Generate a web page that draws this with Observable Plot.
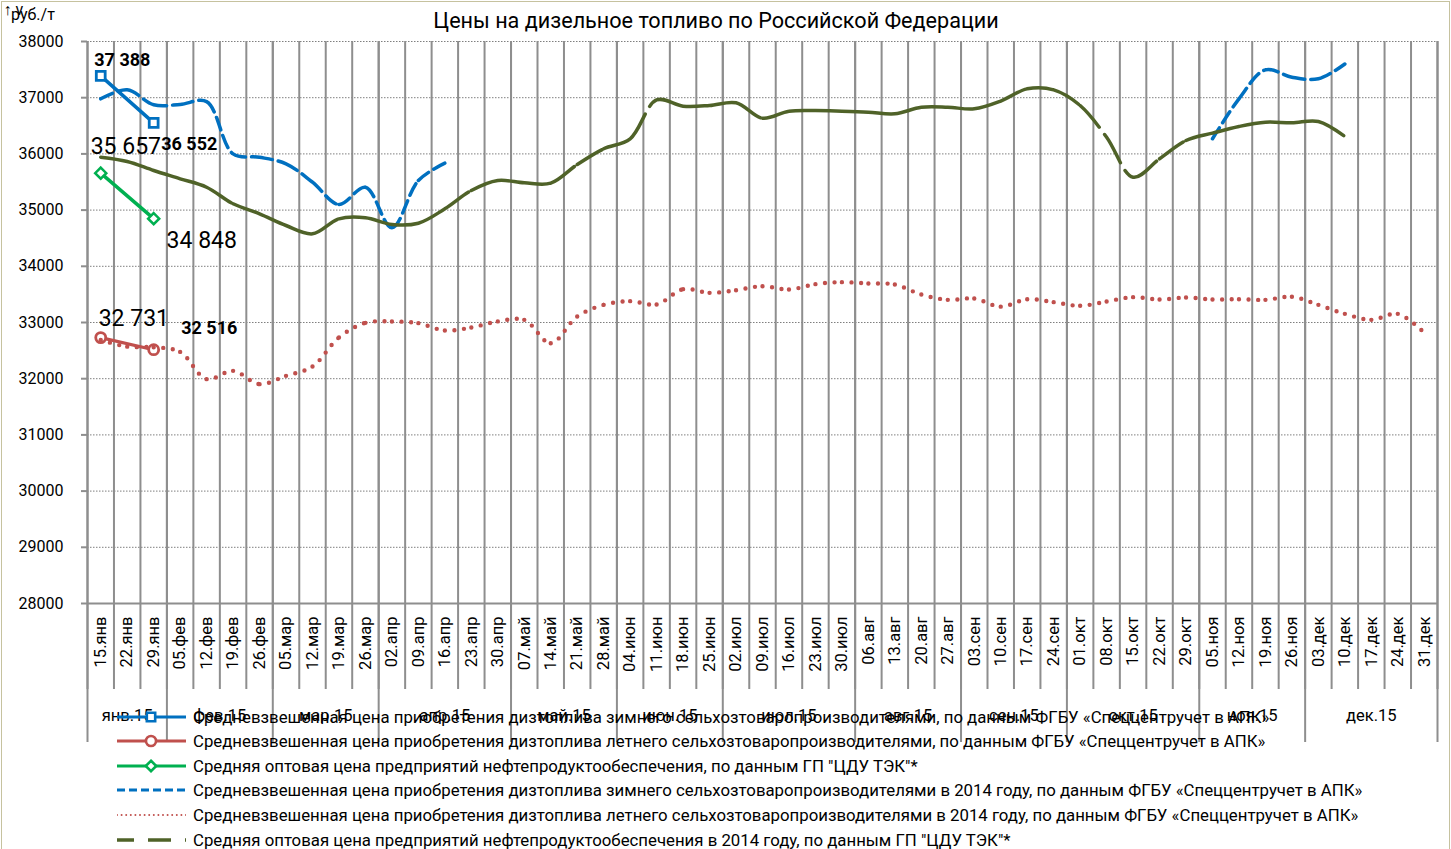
<!DOCTYPE html>
<html>
<head>
<meta charset="utf-8">
<script src="https://cdn.jsdelivr.net/npm/d3@7"></script>
<script src="https://cdn.jsdelivr.net/npm/@observablehq/plot@0.6"></script>
<style>
  body { margin: 0; background: #fff; }
  #chart { position: relative; width: 1451px; height: 849px; overflow: hidden; font-family: Roboto, sans-serif; color: #000; }
  #frame { position: absolute; left: 1px; top: 1px; width: 1447px; height: 900px; border: 1px solid #c6c29f; }
  #title { position: absolute; left: 0; top: 8px; width: 1432px; text-align: center; font-size: 21.6px; line-height: 26px; }
  #unit { position: absolute; left: 11px; top: 5px; font-size: 16px; line-height: 20px; }
  #plot { position: absolute; left: 0; top: 0; }
  .lg-row { position: absolute; left: 117px; height: 24px; display: flex; align-items: center; white-space: nowrap; font-size: 16.8px; }
  .lg-row svg { flex: none; margin-right: 7px; }
</style>
</head>
<body>
<div id="chart">
  <div id="frame"></div>
  <div id="plot"></div>
  <div id="title">Цены на дизельное топливо по Российской Федерации</div>
  <div id="unit">руб./т</div>
  <div id="legend"></div>
</div>
<script>
// Weekly categories of 2015
const weeks = ["15.янв","22.янв","29.янв","05.фев","12.фев","19.фев","26.фев","05.мар","12.мар","19.мар","26.мар",
  "02.апр","09.апр","16.апр","23.апр","30.апр","07.май","14.май","21.май","28.май","04.июн","11.июн","18.июн","25.июн",
  "02.июл","09.июл","16.июл","23.июл","30.июл","06.авг","13.авг","20.авг","27.авг","03.сен","10.сен","17.сен","24.сен",
  "01.окт","08.окт","15.окт","22.окт","29.окт","05.ноя","12.ноя","19.ноя","26.ноя","03.дек","10.дек","17.дек","24.дек","31.дек"];
const months = ["янв.15","фев.15","мар.15","апр.15","май.15","июн.15","июл.15","авг.15","сен.15","окт.15","ноя.15","дек.15"];
const monthWeeks = [3, 4, 4, 5, 4, 4, 5, 4, 4, 5, 4, 5];
const yTicks = [28000, 29000, 30000, 31000, 32000, 33000, 34000, 35000, 36000, 37000, 38000];

// 2015 series (руб./т)
const winter2015 = [37388, null, 36552];
const summer2015 = [32731, null, 32516];
const wholesale2015 = [35657, null, 34848];

// 2014 series, aligned to the same weeks
const winter2014 = [36980, 37140, 36874, 36880, 36930, 36000, 35940, 35824, 35497, 35100, 35407, 34685, 35527, 35835,
  null, null, null, null, null, null, null, null, null, null, null, null, null, null,
  null, null, null, null, null, null, null, null, null, null, null, null, null, null,
  36269, 36980, 37496, 37365, 37336, 37600, null, null, null];
const summer2014 = [32690, 32570, 32560, 32477, 31992, 32140, 31903, 32051, 32217, 32733, 32994, 33018, 32988, 32858,
  32911, 33020, 33047, 32632, 33107, 33314, 33380, 33320, 33593, 33528, 33575, 33646, 33587, 33682, 33718, 33694,
  33676, 33498, 33403, 33427, 33282, 33415, 33362, 33297, 33374, 33451, 33409, 33445, 33409, 33415, 33403, 33457,
  33314, 33154, 33047, 33154, 32816];
const wholesale2014 = [35941, 35865, 35705, 35557, 35407, 35112, 34934, 34726, 34578, 34845, 34863, 34744, 34767, 35023,
  35349, 35527, 35486, 35479, 35811, 36091, 36269, 36960, 36849, 36861, 36909, 36635, 36760, 36772, 36760, 36742,
  36713, 36831, 36831, 36802, 36940, 37158, 37140, 36861, 36297, 35585, 35913, 36238, 36369, 36488, 36564, 36553,
  36577, 36310, null, null, null];

const legendLabels = [
  "Средневзвешенная цена приобретения дизтоплива зимнего сельхозтоваропроизводителями, по данным ФГБУ «Спеццентручет в АПК»",
  "Средневзвешенная цена приобретения дизтоплива летнего сельхозтоваропроизводителями, по данным ФГБУ «Спеццентручет в АПК»",
  "Средняя оптовая цена предприятий нефтепродуктообеспечения, по данным ГП \"ЦДУ ТЭК\"*",
  "Средневзвешенная цена приобретения дизтоплива зимнего сельхозтоваропроизводителями в 2014 году, по данным ФГБУ «Спеццентручет в АПК»",
  "Средневзвешенная цена приобретения дизтоплива летнего сельхозтоваропроизводителями в 2014 году, по данным ФГБУ «Спеццентручет в АПК»",
  "Средняя оптовая цена предприятий нефтепродуктообеспечения в 2014 году, по данным ГП \"ЦДУ ТЭК\"*"
];

const BLUE = "#0070C0", RED = "#C0504D", GREEN = "#00B050", OLIVE = "#4F6228", GRID = "#8e8e8e";

const fmt = d3.formatLocale({decimal: ",", thousands: " ", grouping: [3], currency: ["", ""]}).format(",d");
const rows = (vals) => vals.map((v, i) => ({i, v}));
const present = (vals) => rows(vals).filter((d) => d.v != null);

// Smoothed curve whose dash pattern restarts at every data point
function perSegment(base) {
  return (context) => {
    let px = 0, py = 0;
    const proxy = {
      moveTo(x, y) { context.moveTo(x, y); px = x; py = y; },
      lineTo(x, y) { context.moveTo(px, py); context.lineTo(x, y); px = x; py = y; },
      bezierCurveTo(a, b, c, d, x, y) { context.moveTo(px, py); context.bezierCurveTo(a, b, c, d, x, y); px = x; py = y; },
      closePath() { context.closePath(); }
    };
    return base(proxy);
  };
}
const smooth = perSegment(d3.curveCatmullRom);

// Category and month boundaries
const boundaries = d3.range(weeks.length + 1).map((k) => k - 0.5);
const monthStarts = d3.cumsum([0, ...monthWeeks]).slice(0, months.length);
const monthEdges = [...monthStarts.map((s) => s - 0.5), weeks.length - 0.5];
const monthCenters = months.map((m, j) => ({m, x: monthStarts[j] + (monthWeeks[j] - 1) / 2}));

// Value labels for the 2015 points
const valueLabels = [
  {i: 0, v: winter2015[0]}, {i: 2, v: winter2015[2]},
  {i: 0, v: wholesale2015[0]}, {i: 2, v: wholesale2015[2]},
  {i: 0, v: summer2015[0]}, {i: 2, v: summer2015[2]}
];
const labelLook = [
  {dx: 21.6, dy: -15.4, size: 18, weight: "bold"},
  {dx: 35.6, dy: 21.6, size: 18, weight: "bold"},
  {dx: 25.1, dy: -26.2, size: 23, weight: "normal"},
  {dx: 48.1, dy: 22.4, size: 23, weight: "normal"},
  {dx: 33.1, dy: -19.1, size: 23, weight: "normal"},
  {dx: 55.6, dy: -21.2, size: 18, weight: "bold"}
];

const diamond = d3.symbolDiamond2 || "diamond";

const plot = Plot.plot({
  width: 1451,
  height: 750,
  marginTop: 41,
  marginRight: 14,
  marginBottom: 147,
  marginLeft: 87,
  style: {fontFamily: "Roboto, sans-serif", background: "transparent", overflow: "visible", color: "#000"},
  x: {type: "linear", domain: [-0.5, weeks.length - 0.5], axis: null},
  y: {domain: [28000, 38000], axis: null},
  marks: [
    // dotted horizontal grid
    Plot.ruleY(yTicks.slice(1), {stroke: "#7f7f7f", strokeWidth: 1, strokeDasharray: "1.5,1.5"}),
    // category separators (extend down through the tick labels)
    Plot.ruleX(boundaries, {stroke: GRID, strokeWidth: 2, insetBottom: -86}),
    // month separators (extend down through the month labels)
    Plot.ruleX(monthEdges, {stroke: GRID, strokeWidth: 2, insetBottom: -139}),
    Plot.ruleY([28000], {stroke: GRID, strokeWidth: 2}),
    Plot.axisY(yTicks, {anchor: "left", tickSize: 6, tickPadding: 18, tickFormat: (d) => String(d),
      stroke: GRID, strokeWidth: 2, fill: "#000", fontSize: 16}),
    Plot.axisX(d3.range(weeks.length), {anchor: "bottom", tickSize: 0, tickPadding: 13, tickRotate: -90,
      tickFormat: (i) => weeks[i], fill: "#000", fontSize: 16.5}),
    Plot.text(monthCenters, {x: "x", text: "m", frameAnchor: "bottom", dy: 117, fontSize: 16.5, fill: "#000"}),

    // 2015 series
    Plot.line(present(winter2015), {x: "i", y: "v", stroke: BLUE, strokeWidth: 3.5}),
    Plot.dot(present(winter2015), {x: "i", y: "v", symbol: "square", r: 5, stroke: BLUE, strokeWidth: 2.8, fill: "white"}),
    Plot.line(present(summer2015), {x: "i", y: "v", stroke: RED, strokeWidth: 3.2}),
    Plot.dot(present(summer2015), {x: "i", y: "v", symbol: "circle", r: 5, stroke: RED, strokeWidth: 2.8, fill: "white"}),
    Plot.line(present(wholesale2015), {x: "i", y: "v", stroke: GREEN, strokeWidth: 3.5}),
    Plot.dot(present(wholesale2015), {x: "i", y: "v", symbol: diamond, r: 5, stroke: GREEN, strokeWidth: 2.5, fill: "white"}),

    // 2014 series
    Plot.line(rows(winter2014), {x: "i", y: "v", stroke: BLUE, strokeWidth: 3.5, strokeDasharray: "13,6", curve: smooth}),
    Plot.line(rows(summer2014), {x: "i", y: "v", stroke: RED, strokeWidth: 4.4, strokeDasharray: "0,9.6", strokeLinecap: "round", curve: smooth}),
    Plot.line(rows(wholesale2014), {x: "i", y: "v", stroke: OLIVE, strokeWidth: 3.5, strokeDasharray: "29,9", curve: smooth}),

    // value labels
    ...valueLabels.map((d, k) => Plot.text([d], {
      x: "i", y: "v", text: (p) => fmt(p.v),
      dx: labelLook[k].dx, dy: labelLook[k].dy,
      fontSize: labelLook[k].size, fontWeight: labelLook[k].weight, fill: "#000"
    }))
  ]
});
document.getElementById("plot").append(plot);

// Legend: one row per series, sample line plus description
const legendStyles = [
  {stroke: BLUE, width: 3, dash: null, symbol: d3.symbolSquare, size: 70},
  {stroke: RED, width: 3, dash: null, symbol: d3.symbolCircle, size: 80},
  {stroke: GREEN, width: 3, dash: null, symbol: d3.symbolDiamond2 || d3.symbolDiamond, size: 70},
  {stroke: BLUE, width: 3, dash: "8,4", symbol: null},
  {stroke: RED, width: 2, dash: "0,4.6", cap: "round", symbol: null},
  {stroke: OLIVE, width: 3.5, dash: "17,14,23,14,6", symbol: null}
];
const legendTop = [705, 729, 754, 778, 803, 828];
const legend = d3.select("#legend");
legendLabels.forEach((text, k) => {
  const s = legendStyles[k];
  const row = legend.append("div").attr("class", "lg-row").style("top", legendTop[k] + "px");
  const svg = row.append("svg").attr("width", 69).attr("height", 24);
  svg.append("line").attr("x1", 0).attr("x2", 69).attr("y1", 12).attr("y2", 12)
    .attr("stroke", s.stroke).attr("stroke-width", s.width)
    .attr("stroke-dasharray", s.dash).attr("stroke-linecap", s.cap || "butt");
  if (s.symbol) {
    svg.append("path").attr("d", d3.symbol(s.symbol, s.size)()).attr("transform", "translate(34,12)")
      .attr("fill", "white").attr("stroke", s.stroke).attr("stroke-width", 2.6);
  }
  row.append("span").text(text);
});
</script>
</body>
</html>
